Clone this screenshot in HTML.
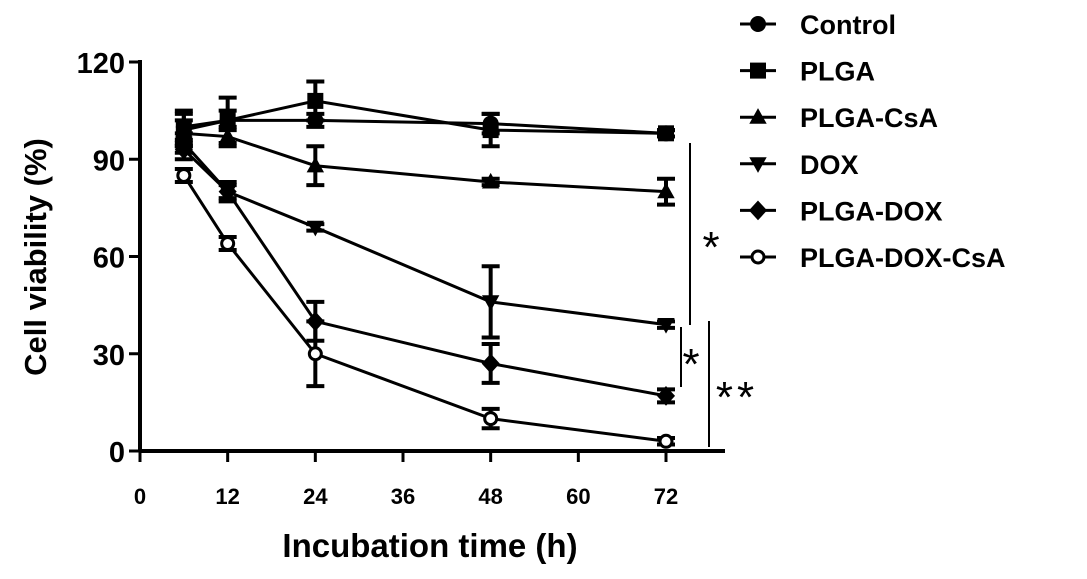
<!DOCTYPE html>
<html><head><meta charset="utf-8"><style>
body{margin:0;background:#fff;}
svg text{font-family:"Liberation Sans",Arial,sans-serif;font-weight:bold;fill:#000;}
</style></head><body>
<svg width="1087" height="574" viewBox="0 0 1087 574">
<g id="plot"></g>
</svg>
<script>
const times=[6,12,24,48,72];
const seriesNames=["Control","PLGA","PLGA-CsA","DOX","PLGA-DOX","PLGA-DOX-CsA"];
const controlVals=[100,102,102,101,98];
const plgaVals=[99,102,108,99,98];
const plgaCsaVals=[98,97,88,83,80];
const doxVals=[95,80,69,46,39];
const plgaDoxVals=[93,80,40,27,17];
const plgaDoxCsaVals=[85,64,30,10,3];
const controlErr=[5,3,2,3,1];
const plgaErr=[5,7,6,5,1];
const plgaCsaErr=[4,3,6,1,4];
const doxErr=[3,2,1,11,1];
const plgaDoxErr=[3,3,6,6,2];
const plgaDoxCsaErr=[2,2,10,3,1];
const xTicks=[0,12,24,36,48,60,72];
const yTicks=[0,30,60,90,120];
const markers=["circle","square","triangle","down","diamond","open"];

const NS="http://www.w3.org/2000/svg";
const g=document.getElementById('plot');
const X=v=>140+v*(666-140)/72;
const Y=v=>451-v*(451-62)/120;
function mk(t,a,p){const e=document.createElementNS(NS,t);for(const k in a)e.setAttribute(k,a[k]);(p||g).appendChild(e);return e;}

let ax=mk('line',{x1:140,y1:451,x2:725,y2:451,stroke:'#000','stroke-width':4});


let ay=mk('line',{x1:140,y1:451,x2:140,y2:60,stroke:'#000','stroke-width':4});


xTicks.forEach(t=>{
  mk('line',{x1:X(t),y1:451,x2:X(t),y2:462,stroke:'#000','stroke-width':3});
  const tx=mk('text',{x:X(t),y:504,'text-anchor':'middle','font-size':22});
  tx.textContent=t;
  
  
});
yTicks.forEach(t=>{
  mk('line',{x1:129,y1:Y(t),x2:140,y2:Y(t),stroke:'#000','stroke-width':3});
  const tx=mk('text',{x:125,y:Y(t)+11,'text-anchor':'end','font-size':29});
  tx.textContent=t;
  
  
});
let xt=mk('text',{x:430,y:557,'text-anchor':'middle','font-size':33});
xt.textContent='Incubation time (h)';


let yt=mk('text',{x:0,y:0,'text-anchor':'middle','font-size':31,transform:'translate(46,257) rotate(-90)'});
yt.textContent='Cell viability (%)';



function marker(type,x,y,s,p){
  const a={fill:'#000',stroke:'#000','stroke-width':2};
  if(type=='circle')return mk('circle',Object.assign({cx:x,cy:y,r:s},a),p);
  if(type=='square')return mk('rect',Object.assign({x:x-s,y:y-s,width:2*s,height:2*s},a),p);
  if(type=='triangle')return mk('polygon',Object.assign({points:`${x},${y-s} ${x-s},${y+s*0.8} ${x+s},${y+s*0.8}`},a),p);
  if(type=='down')return mk('polygon',Object.assign({points:`${x},${y+s} ${x-s},${y-s*0.8} ${x+s},${y-s*0.8}`},a),p);
  if(type=='diamond')return mk('polygon',Object.assign({points:`${x},${y-s*1.2} ${x+s*1.1},${y} ${x},${y+s*1.2} ${x-s*1.1},${y}`},a),p);
  return mk('circle',{cx:x,cy:y,r:s-1,fill:'#fff',stroke:'#000','stroke-width':3},p);
}
const vals=[controlVals,plgaVals,plgaCsaVals,doxVals,plgaDoxVals,plgaDoxCsaVals];
const errs=[controlErr,plgaErr,plgaCsaErr,doxErr,plgaDoxErr,plgaDoxCsaErr];
vals.forEach((vs,si)=>{
  const sg=mk('g',{});
  
  
  const pts=vs.map((v,i)=>X(times[i])+','+Y(v)).join(' ');
  mk('polyline',{points:pts,fill:'none',stroke:'#000','stroke-width':3},sg);
  vs.forEach((v,i)=>{
    const x=X(times[i]),e=errs[si][i];
    mk('line',{x1:x,y1:Y(v+e),x2:x,y2:Y(v-e),stroke:'#000','stroke-width':4},sg);
    mk('line',{x1:x-9,y1:Y(v+e),x2:x+9,y2:Y(v+e),stroke:'#000','stroke-width':4},sg);
    mk('line',{x1:x-9,y1:Y(v-e),x2:x+9,y2:Y(v-e),stroke:'#000','stroke-width':4},sg);
    const m=marker(markers[si],x,Y(v),7,sg);
    
    
  });
});

[[690,143,325],[681,327,387],[709,321,447]].forEach(l=>{
  const e=mk('line',{x1:l[0],y1:l[1],x2:l[0],y2:l[2],stroke:'#000','stroke-width':2});
  
  
});
[[713,262,'*'],[693,379,'*'],[737,412,'**']].forEach(s=>{
  const t=mk('text',{x:s[0],y:s[1],'text-anchor':'middle','font-size':44,style:'font-weight:normal','letter-spacing':4});
  t.textContent=s[2];
  
  
});

seriesNames.forEach((n,i)=>{
  const y=24+i*46.6;
  const lg=mk('g',{});
  
  
  mk('line',{x1:740,y1:y,x2:776,y2:y,stroke:'#000','stroke-width':3},lg);
  marker(markers[i],758,y,7,lg);
  const t=mk('text',{x:800,y:y+10,'font-size':27},lg);
  t.textContent=n;
});
</script>
</body></html>
